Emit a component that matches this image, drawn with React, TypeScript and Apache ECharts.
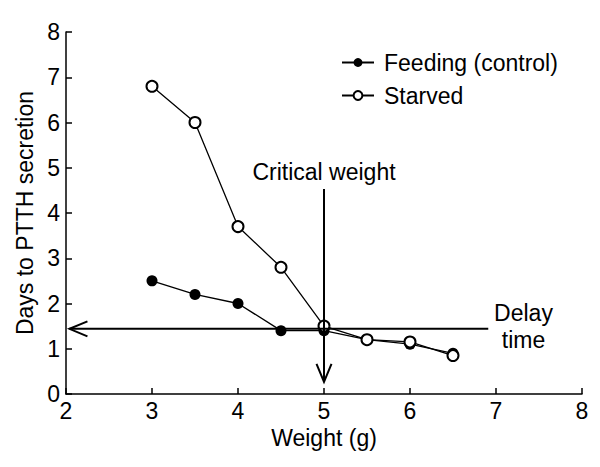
import React, { useEffect, useRef } from 'react';
import * as echarts from 'echarts';

const weights = [3, 3.5, 4, 4.5, 5, 5.5, 6, 6.5];
const feeding = [2.5, 2.2, 2.0, 1.4, 1.4, 1.2, 1.1, 0.9];
const starved = [6.8, 6.0, 3.7, 2.8, 1.5, 1.2, 1.15, 0.85];
const seriesNames = ['Feeding (control)', 'Starved'];
const xAxisName = 'Weight (g)';
const yAxisName = 'Days to PTTH secretion';
// [fromX, fromY, tipX, tipY]
const arrows = [
  [6.91, 1.44, 2.04, 1.44],
  [5, 4.53, 5, 0.27],
];
const noteTexts = ['Critical weight', 'Delay\ntime'];
const noteX = [5, 7.32];
const noteY = [4.9, 1.49];

const FONT = 'Liberation Sans, Arial, Helvetica, sans-serif';
const FS = 23;

export default function App() {
  const ref = useRef<HTMLDivElement>(null);
  useEffect(() => {
    if (!ref.current) return;
    const chart = echarts.init(ref.current, null, { renderer: 'svg' });
    const feedData = weights.map((w, i) => [w, feeding[i]]);
    const starvData = weights.map((w, i) => [w, starved[i]]);
    const notesData = noteX.map((x, i) => [x, noteY[i]]);
    chart.setOption({
      animation: false,
      backgroundColor: '#fff',
      textStyle: { fontFamily: FONT, color: '#000' },
      grid: { left: 66, right: 18, top: 32, bottom: 73, containLabel: false, outerBoundsMode: 'none' },
      legend: {
        orient: 'vertical',
        left: 341,
        top: 51,
        padding: 0,
        itemGap: 10,
        itemWidth: 32,
        itemHeight: 11,
        data: seriesNames,
        textStyle: { fontSize: FS, color: '#000', fontFamily: FONT, padding: [0, 0, 0, 5] },
      },
      xAxis: {
        type: 'value',
        min: 2,
        max: 8,
        interval: 1,
        name: xAxisName,
        nameLocation: 'middle',
        nameGap: 31,
        nameTextStyle: { fontSize: FS, color: '#000', fontFamily: FONT },
        axisLine: { lineStyle: { color: '#000', width: 1.5 } },
        axisTick: { inside: true, length: 6, lineStyle: { color: '#000', width: 1.5 } },
        axisLabel: { fontSize: FS, color: '#000', margin: 5, fontFamily: FONT },
        splitLine: { show: false },
      },
      yAxis: {
        type: 'value',
        min: 0,
        max: 8,
        interval: 1,
        name: yAxisName,
        nameLocation: 'middle',
        nameGap: 27,
        nameTextStyle: { fontSize: FS, color: '#000', fontFamily: FONT },
        axisLine: { show: true, lineStyle: { color: '#000', width: 1.5 } },
        axisTick: { show: true, inside: true, length: 6, lineStyle: { color: '#000', width: 1.5 } },
        axisLabel: { fontSize: FS, color: '#000', margin: 6, fontFamily: FONT },
        splitLine: { show: false },
      },
      series: [
        {
          name: seriesNames[0],
          type: 'line',
          data: feedData,
          symbol: 'circle',
          symbolSize: 11,
          itemStyle: { color: '#000' },
          lineStyle: { color: '#000', width: 1.3 },
          z: 3,
        },
        {
          name: seriesNames[1],
          type: 'line',
          data: starvData,
          symbol: 'emptyCircle',
          symbolSize: 11,
          itemStyle: { color: '#000', borderWidth: 1.5 },
          lineStyle: { color: '#000', width: 1.3 },
          z: 4,
        },
        {
          type: 'custom',
          coordinateSystem: 'cartesian2d',
          data: arrows,
          encode: { x: [0, 2], y: [1, 3] },
          clip: false,
          silent: true,
          z: 5,
          renderItem: (params: any, api: any) => {
            const p0 = api.coord([api.value(0), api.value(1)]);
            const p1 = api.coord([api.value(2), api.value(3)]);
            const dx = p1[0] - p0[0];
            const dy = p1[1] - p0[1];
            const len = Math.sqrt(dx * dx + dy * dy) || 1;
            const ux = dx / len;
            const uy = dy / len;
            const hl = 18;
            const hw = 7.5;
            const bx = p1[0] - ux * hl;
            const by = p1[1] - uy * hl;
            const px = -uy;
            const py = ux;
            return {
              type: 'group',
              children: [
                {
                  type: 'line',
                  shape: { x1: p0[0], y1: p0[1], x2: p1[0], y2: p1[1] },
                  style: { stroke: '#000', lineWidth: 2 },
                },
                {
                  type: 'polyline',
                  shape: {
                    points: [
                      [bx + px * hw, by + py * hw],
                      [p1[0], p1[1]],
                      [bx - px * hw, by - py * hw],
                    ],
                  },
                  style: { stroke: '#000', lineWidth: 2, fill: null },
                },
              ],
            };
          },
        },
        {
          type: 'custom',
          coordinateSystem: 'cartesian2d',
          data: notesData,
          clip: false,
          silent: true,
          z: 6,
          renderItem: (params: any, api: any) => {
            const p = api.coord([api.value(0), api.value(1)]);
            return {
              type: 'text',
              style: {
                text: noteTexts[params.dataIndex],
                x: p[0],
                y: p[1],
                align: 'center',
                verticalAlign: 'middle',
                fontSize: FS,
                lineHeight: 27,
                fontFamily: FONT,
                fill: '#000',
              },
            };
          },
        },
      ],
    });
    return () => chart.dispose();
  }, []);
  return (
    <div
      ref={ref}
      style={{ position: 'fixed', left: 0, top: 0, width: 600, height: 467, background: '#fff' }}
    />
  );
}
